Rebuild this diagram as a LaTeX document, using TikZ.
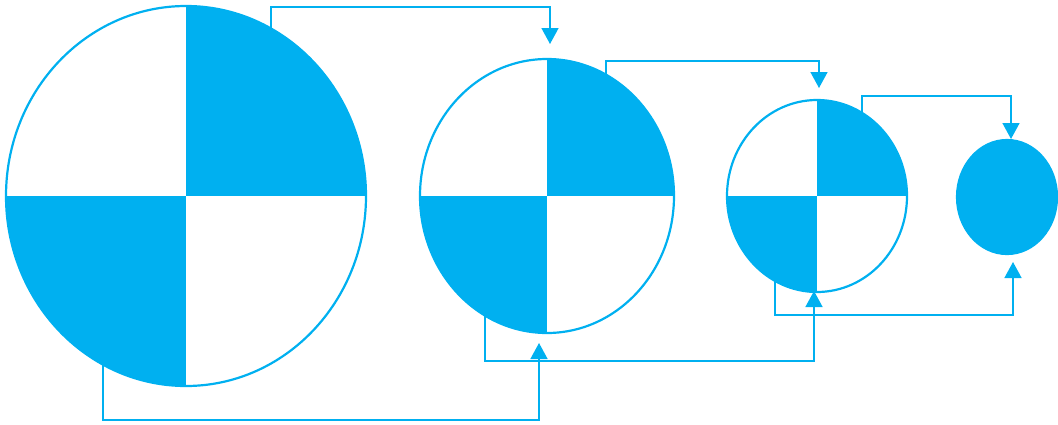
\documentclass[tikz,border=0pt]{standalone}
\usepackage{tikz}
\usetikzlibrary{shapes.geometric,arrows.meta}
\definecolor{sky}{HTML}{00B0F0}
\tikzset{
  disc/.style={ellipse,draw=sky,line width=2.2pt,inner sep=0pt},
  link/.style={draw=sky,line width=1.5pt,-{Triangle[width=17pt,length=16pt]}}
}
\begin{document}
\begin{tikzpicture}[x=1pt,y=-1pt]
  \useasboundingbox (0,0) rectangle (1058,424);
  % quartered discs
  \foreach \n/\cx/\rx/\ry in {1/186/180/190,2/547/127/137,3/817/90/96}{
    \begin{scope}
      \clip (\cx,196) ellipse [x radius=\rx, y radius=\ry];
      \fill[sky] (\cx,196) rectangle ++(\rx+2,-\ry-2);
      \fill[sky] (\cx,196) rectangle ++(-\rx-2,\ry+2);
    \end{scope}
    \node[disc,minimum width={2*\rx pt},minimum height={2*\ry pt}] (e\n) at (\cx,196) {};
  }
  \node[disc,fill=sky,minimum width=100pt,minimum height=114pt] (e4) at (1007,197) {};
  % ends of the links
  \coordinate (o1) at (271,45);   \coordinate (in1) at (550,44);
  \coordinate (o2) at (606,85);   \coordinate (in2) at (819,88);
  \coordinate (o3) at (862,120);  \coordinate (in3) at (1011,139);
  \coordinate (u1) at (103,350);  \coordinate (up1) at (539,343);
  \coordinate (u2) at (485,305);  \coordinate (up2) at (814,291);
  \coordinate (u3) at (775,270);  \coordinate (up3) at (1013,262);
  \draw[link] (o1) -- ++(0,-38) -| (in1);
  \draw[link] (o2) -- ++(0,-24) -| (in2);
  \draw[link] (o3) -- ++(0,-24) -| (in3);
  \draw[link] (u1) -- ++(0,70) -| (up1);
  \draw[link] (u2) -- ++(0,56) -| (up2);
  \draw[link] (u3) -- ++(0,45) -| (up3);
\end{tikzpicture}
\end{document}
